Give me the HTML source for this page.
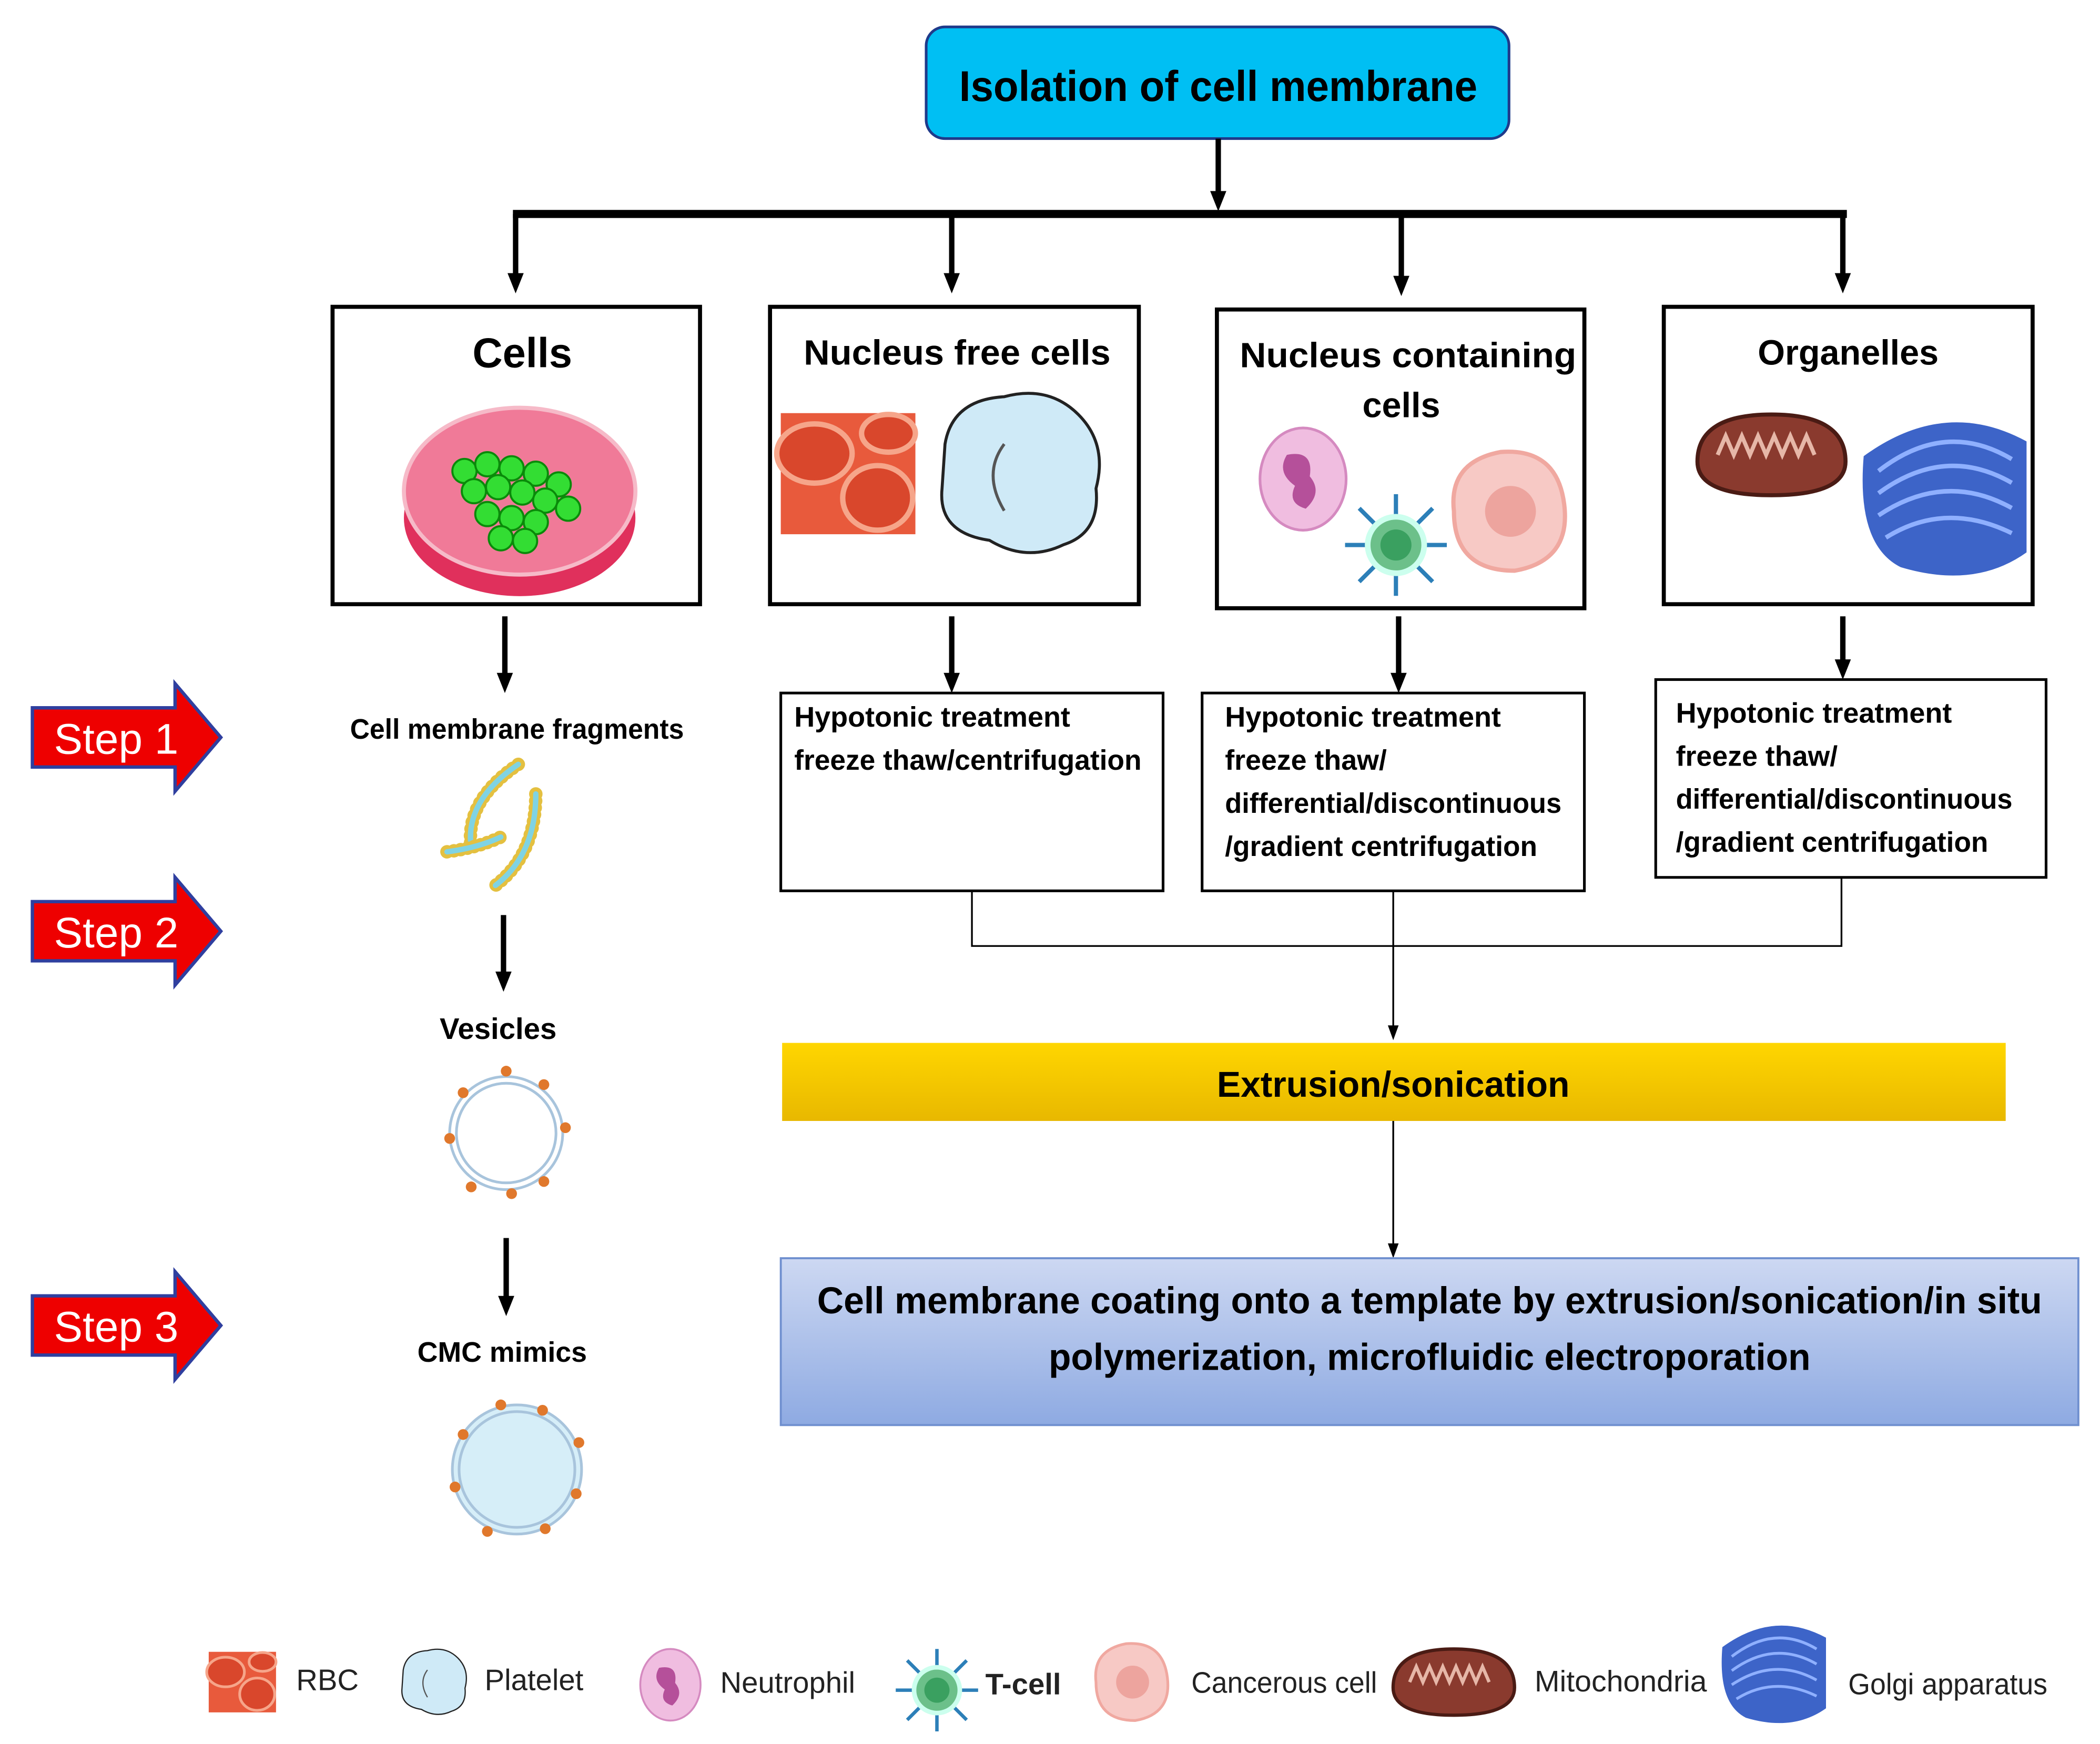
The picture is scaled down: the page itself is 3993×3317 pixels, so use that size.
<!DOCTYPE html>
<html><head><meta charset="utf-8"><style>
html,body{margin:0;padding:0;background:#fff}
svg{display:block}
text{font-family:"Liberation Sans",sans-serif}
</style></head><body>
<svg width="3993" height="3317" viewBox="0 0 1560 1296" xmlns="http://www.w3.org/2000/svg">
<defs>
<linearGradient id="yel" x1="0" y1="0" x2="0" y2="1"><stop offset="0" stop-color="#FFD600"/><stop offset="1" stop-color="#E8B800"/></linearGradient>
<linearGradient id="blu" x1="0" y1="0" x2="0" y2="1"><stop offset="0" stop-color="#cdd8f2"/><stop offset="1" stop-color="#8eaae2"/></linearGradient>
<g id="rbc"><rect x="-50" y="-45" width="100" height="90" fill="#e85a3c"/><ellipse cx="-25" cy="-15" rx="28" ry="22" fill="#d9472c" stroke="#f6a58a" stroke-width="4"/><ellipse cx="22" cy="18" rx="26" ry="24" fill="#d9472c" stroke="#f6a58a" stroke-width="4"/><ellipse cx="30" cy="-30" rx="20" ry="14" fill="#d9472c" stroke="#f6a58a" stroke-width="4"/></g>
<g id="plt"><path d="M-50,-20 Q-45,-50 -10,-52 Q20,-60 40,-40 Q60,-20 52,10 Q55,40 30,48 Q5,60 -20,45 Q-55,40 -52,10 Z" fill="#cfeaf7" stroke="#222" stroke-width="2"/><path d="M-10,-20 Q-25,0 -10,25" fill="none" stroke="#555" stroke-width="2"/></g>
<g id="neu"><ellipse cx="0" cy="0" rx="32" ry="38" fill="#f0bde0" stroke="#d58ac0" stroke-width="2"/><path d="M-12,-18 Q8,-22 5,-2 Q15,10 2,22 Q-12,18 -6,5 Q-20,-5 -12,-18Z" fill="#b5509a"/></g>
<g id="tc"><g stroke="#2c7fb8" stroke-width="3"><line x1="0" y1="-36" x2="0" y2="36"/><line x1="-36" y1="0" x2="36" y2="0"/><line x1="-26" y1="-26" x2="26" y2="26"/><line x1="-26" y1="26" x2="26" y2="-26"/></g><circle r="20" fill="#6cc08a" stroke="#cfe" stroke-width="4"/><circle r="11" fill="#3aa060"/></g>
<g id="can"><path d="M-38,0 Q-42,-35 -5,-42 Q35,-45 40,-5 Q45,35 5,42 Q-38,42 -38,0Z" fill="#f7c9c5" stroke="#f0a8a0" stroke-width="3"/><circle cx="2" cy="0" r="18" fill="#eda49e"/></g>
<g id="mit"><path d="M-55,5 Q-55,-30 0,-30 Q55,-30 55,5 Q55,30 0,30 Q-55,30 -55,5Z" fill="#8a3a2e" stroke="#4a1b14" stroke-width="3"/><path d="M-40,0 l6,-14 l6,14 l6,-14 l6,14 l6,-14 l6,14 l6,-14 l6,14 l6,-14 l6,14 l6,-14 l6,14" fill="none" stroke="#e6b7a8" stroke-width="3"/></g>
<g id="gol"><path d="M-55,-30 Q0,-70 55,-40 L55,35 Q20,60 -30,45 Q-60,30 -55,-30Z" fill="#3d64c8"/><g fill="none" stroke="#8fb0ff" stroke-width="3"><path d="M-45,-20 Q0,-55 45,-28"/><path d="M-45,-5 Q0,-38 45,-12"/><path d="M-45,10 Q0,-20 45,5"/><path d="M-40,25 Q0,0 45,22"/></g></g>
<g id="step"><path d="M0,-22 L106,-22 L106,-40 L140,0 L106,40 L106,22 L0,22 Z" fill="#ee0000" stroke="#2f3f9f" stroke-width="2.5"/></g>
</defs>

<!-- top box -->
<rect x="688" y="20" width="433" height="83" rx="14" fill="#00BFF3" stroke="#1f3a8a" stroke-width="2"/>
<text x="905" y="75" text-anchor="middle" font-size="32" font-weight="bold" textLength="385" lengthAdjust="spacingAndGlyphs">Isolation of cell membrane</text>
<line x1="381" y1="159" x2="1372" y2="159" stroke="#000" stroke-width="6"/>
<g stroke="#000" stroke-width="4">
<line x1="905" y1="103" x2="905" y2="145"/>
<line x1="383" y1="159" x2="383" y2="206"/>
<line x1="707" y1="159" x2="707" y2="206"/>
<line x1="1041" y1="159" x2="1041" y2="208"/>
<line x1="1369" y1="159" x2="1369" y2="206"/>
<line x1="375" y1="458" x2="375" y2="503"/>
<line x1="707" y1="458" x2="707" y2="503"/>
<line x1="1039" y1="458" x2="1039" y2="503"/>
<line x1="1369" y1="458" x2="1369" y2="493"/>
<line x1="374" y1="680" x2="374" y2="725"/>
<line x1="376" y1="920" x2="376" y2="966"/>
</g>
<g fill="#000">
<path d="M899,142 L911,142 L905,157Z"/>
<path d="M377,203 L389,203 L383,218Z"/>
<path d="M701,203 L713,203 L707,218Z"/>
<path d="M1035,205 L1047,205 L1041,220Z"/>
<path d="M1363,203 L1375,203 L1369,218Z"/>
<path d="M369,500 L381,500 L375,515Z"/>
<path d="M701,500 L713,500 L707,515Z"/>
<path d="M1033,500 L1045,500 L1039,515Z"/>
<path d="M1363,490 L1375,490 L1369,505Z"/>
<path d="M368,722 L380,722 L374,737Z"/>
<path d="M370,963 L382,963 L376,978Z"/>
</g>

<!-- category boxes -->
<g fill="#fff" stroke="#000" stroke-width="3">
<rect x="247" y="228" width="273" height="221"/>
<rect x="572" y="228" width="274" height="221"/>
<rect x="904" y="230" width="273" height="222"/>
<rect x="1236" y="228" width="274" height="221"/>
</g>
<g font-weight="bold" text-anchor="middle">
<text x="388" y="273" font-size="31">Cells</text>
<text x="711" y="271" font-size="26" textLength="228" lengthAdjust="spacingAndGlyphs">Nucleus free cells</text>
<text x="1046" y="273" font-size="26" textLength="250" lengthAdjust="spacingAndGlyphs">Nucleus containing</text>
<text x="1041" y="310" font-size="26">cells</text>
<text x="1373" y="271" font-size="26">Organelles</text>
</g>
<!-- petri dish -->
<ellipse cx="386" cy="385" rx="86" ry="58" fill="#e0305c"/>
<ellipse cx="386" cy="365" rx="86" ry="62" fill="#f07a98" stroke="#f6bac8" stroke-width="3"/>
<g fill="#33dd33" stroke="#0a8a0a" stroke-width="1.5">
<circle cx="345" cy="350" r="9"/><circle cx="362" cy="345" r="9"/><circle cx="380" cy="348" r="9"/><circle cx="398" cy="352" r="9"/><circle cx="415" cy="360" r="9"/>
<circle cx="352" cy="365" r="9"/><circle cx="370" cy="362" r="9"/><circle cx="388" cy="366" r="9"/><circle cx="405" cy="372" r="9"/><circle cx="422" cy="378" r="9"/>
<circle cx="362" cy="382" r="9"/><circle cx="380" cy="385" r="9"/><circle cx="398" cy="388" r="9"/><circle cx="372" cy="400" r="9"/><circle cx="390" cy="402" r="9"/>
</g>
<use href="#rbc" transform="translate(630,352)"/>
<use href="#plt" transform="translate(757,352) scale(1.1)"/>
<use href="#neu" transform="translate(968,356)"/>
<use href="#tc" transform="translate(1037,405) scale(1.05)"/>
<use href="#can" transform="translate(1120,380) scale(1.05)"/>
<use href="#mit" transform="translate(1316,338)"/>
<use href="#gol" transform="translate(1445,372) scale(1.1)"/>

<text x="384" y="549" text-anchor="middle" font-size="21" font-weight="bold" textLength="248" lengthAdjust="spacingAndGlyphs">Cell membrane fragments</text>
<g fill="none" stroke-linecap="round">
<path d="M385,568 Q345,595 350,630" stroke="#e4c040" stroke-width="10" stroke-dasharray="0.1 5"/>
<path d="M385,568 Q345,595 350,630" stroke="#7fd3e3" stroke-width="4"/>
<path d="M398,590 Q398,635 368,658" stroke="#e4c040" stroke-width="10" stroke-dasharray="0.1 5"/>
<path d="M398,590 Q398,635 368,658" stroke="#7fd3e3" stroke-width="4"/>
<path d="M332,633 Q355,630 372,622" stroke="#e4c040" stroke-width="10" stroke-dasharray="0.1 5"/>
<path d="M332,633 Q355,630 372,622" stroke="#7fd3e3" stroke-width="4"/>
</g>

<text x="370" y="772" text-anchor="middle" font-size="22" font-weight="bold">Vesicles</text>
<circle cx="376" cy="842" r="42" fill="none" stroke="#a8c4dc" stroke-width="2"/>
<circle cx="376" cy="842" r="37" fill="none" stroke="#a8c4dc" stroke-width="2"/>
<g fill="#e0782c">
<circle cx="376" cy="796" r="4"/><circle cx="404" cy="806" r="4"/><circle cx="420" cy="838" r="4"/><circle cx="404" cy="878" r="4"/><circle cx="380" cy="887" r="4"/><circle cx="350" cy="882" r="4"/><circle cx="334" cy="846" r="4"/><circle cx="344" cy="812" r="4"/>
</g>
<text x="373" y="1012" text-anchor="middle" font-size="21" font-weight="bold">CMC mimics</text>
<circle cx="384" cy="1092" r="48" fill="#d6eef8" stroke="#a8c4dc" stroke-width="2"/>
<circle cx="384" cy="1092" r="43" fill="none" stroke="#a8c4dc" stroke-width="2"/>
<g fill="#e0782c"><circle cx="372" cy="1044" r="4"/><circle cx="403" cy="1048" r="4"/><circle cx="430" cy="1072" r="4"/><circle cx="428" cy="1110" r="4"/><circle cx="405" cy="1136" r="4"/><circle cx="362" cy="1138" r="4"/><circle cx="338" cy="1105" r="4"/><circle cx="344" cy="1066" r="4"/></g>

<use href="#step" transform="translate(24,548)"/>
<use href="#step" transform="translate(24,692)"/>
<use href="#step" transform="translate(24,985)"/>
<g fill="#fff" font-size="32"><text x="40" y="560">Step 1</text><text x="40" y="704">Step 2</text><text x="40" y="997">Step 3</text></g>

<g fill="#fff" stroke="#000" stroke-width="2">
<rect x="580" y="515" width="284" height="147"/>
<rect x="893" y="515" width="284" height="147"/>
<rect x="1230" y="505" width="290" height="147"/>
</g>
<g font-size="21" font-weight="bold">
<text x="590" y="540" textLength="205" lengthAdjust="spacingAndGlyphs">Hypotonic treatment</text>
<text x="590" y="572" textLength="258" lengthAdjust="spacingAndGlyphs">freeze thaw/centrifugation</text>
<text x="910" y="540" textLength="205" lengthAdjust="spacingAndGlyphs">Hypotonic treatment</text>
<text x="910" y="572">freeze thaw/</text>
<text x="910" y="604" textLength="250" lengthAdjust="spacingAndGlyphs">differential/discontinuous</text>
<text x="910" y="636" textLength="232" lengthAdjust="spacingAndGlyphs">/gradient centrifugation</text>
<text x="1245" y="537" textLength="205" lengthAdjust="spacingAndGlyphs">Hypotonic treatment</text>
<text x="1245" y="569">freeze thaw/</text>
<text x="1245" y="601" textLength="250" lengthAdjust="spacingAndGlyphs">differential/discontinuous</text>
<text x="1245" y="633" textLength="232" lengthAdjust="spacingAndGlyphs">/gradient centrifugation</text>
</g>
<g stroke="#000" stroke-width="1.3" fill="none">
<path d="M722,662 L722,703 L1368,703 L1368,652"/>
<line x1="1035" y1="662" x2="1035" y2="764"/>
<line x1="1035" y1="833" x2="1035" y2="926"/>
</g>
<path d="M1031,762 L1039,762 L1035,773Z" fill="#000"/>
<path d="M1031,924 L1039,924 L1035,935Z" fill="#000"/>
<rect x="581" y="775" width="909" height="58" fill="url(#yel)"/>
<text x="1035" y="815" text-anchor="middle" font-size="27" font-weight="bold" textLength="262" lengthAdjust="spacingAndGlyphs">Extrusion/sonication</text>
<rect x="580" y="935" width="964" height="124" fill="url(#blu)" stroke="#6f8fcf" stroke-width="1.5"/>
<g font-size="28" font-weight="bold" text-anchor="middle">
<text x="1062" y="976" textLength="910" lengthAdjust="spacingAndGlyphs">Cell membrane coating onto a template by extrusion/sonication/in situ</text>
<text x="1062" y="1018" textLength="566" lengthAdjust="spacingAndGlyphs">polymerization, microfluidic electroporation</text>
</g>

<use href="#rbc" transform="translate(180,1250) scale(0.5)"/>
<use href="#plt" transform="translate(322,1250) scale(0.45)"/>
<use href="#neu" transform="translate(498,1252) scale(0.7)"/>
<use href="#tc" transform="translate(696,1256) scale(0.85)"/>
<use href="#can" transform="translate(840,1250) scale(0.68)"/>
<use href="#mit" transform="translate(1080,1250) scale(0.82)"/>
<use href="#gol" transform="translate(1318,1245) scale(0.7)"/>
<g font-size="22" fill="#222">
<text x="220" y="1256">RBC</text>
<text x="360" y="1256">Platelet</text>
<text x="535" y="1258">Neutrophil</text>
<text x="732" y="1259" font-weight="bold">T-cell</text>
<text x="885" y="1258" textLength="138" lengthAdjust="spacingAndGlyphs">Cancerous cell</text>
<text x="1140" y="1257" textLength="128" lengthAdjust="spacingAndGlyphs">Mitochondria</text>
<text x="1373" y="1259" textLength="148" lengthAdjust="spacingAndGlyphs">Golgi apparatus</text>
</g>
</svg>
</body></html>
